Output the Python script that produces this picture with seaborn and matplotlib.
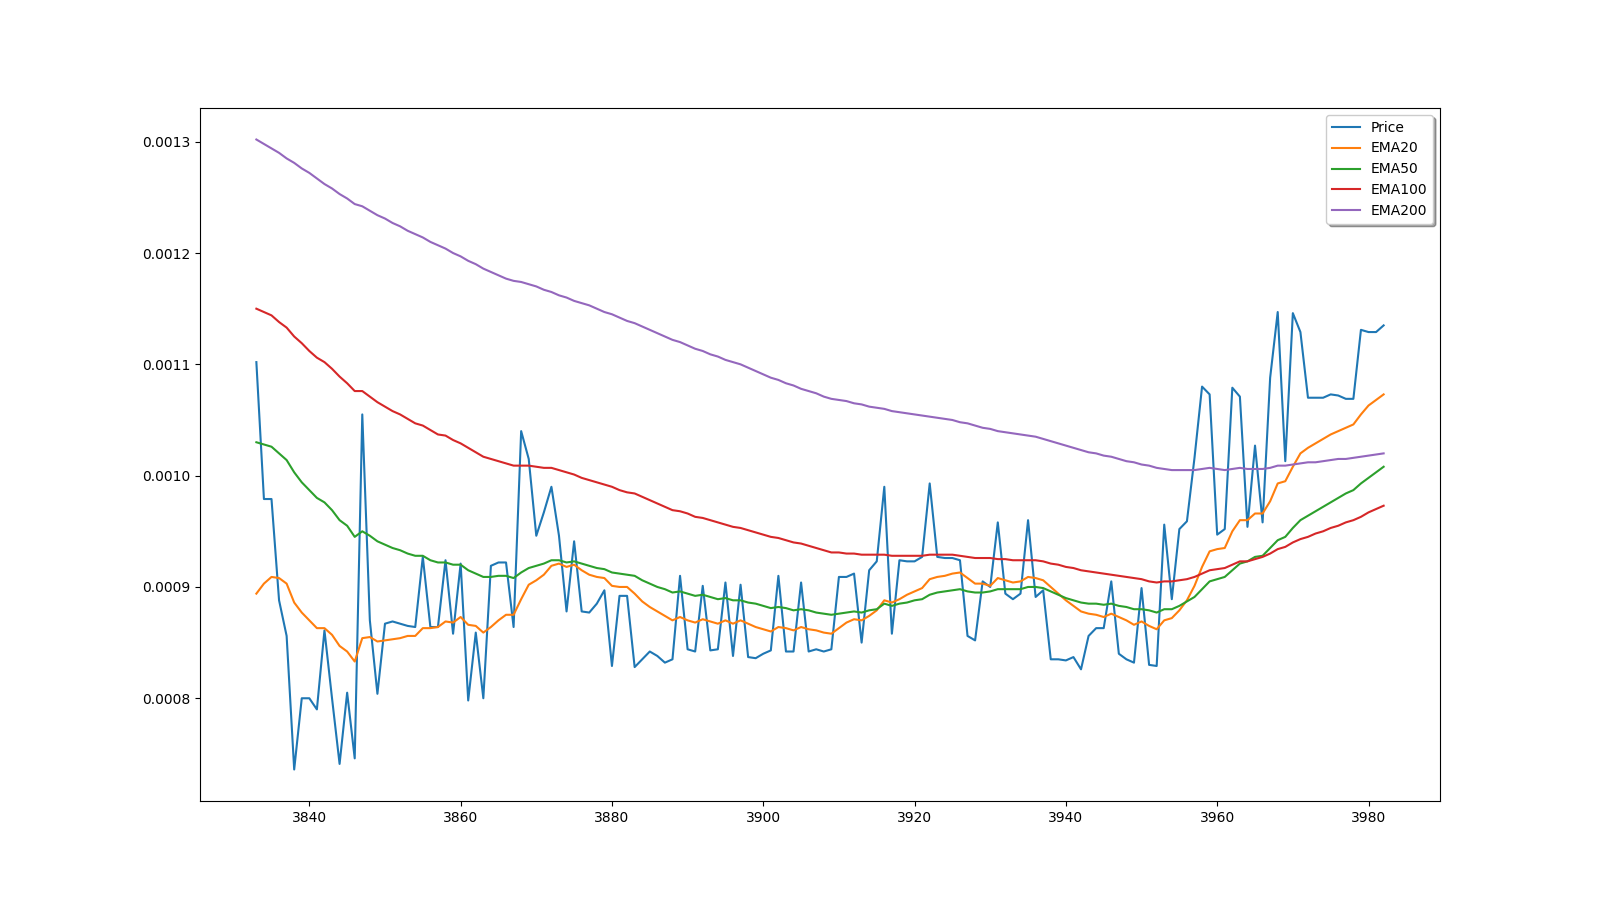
import numpy as np
import matplotlib
matplotlib.use("Agg")
import matplotlib.pyplot as plt
import seaborn as sns


days = np.arange(3833, 3983)

price = [
    0.001102, 0.000979, 0.000979, 0.000888, 0.000856, 0.000736, 0.000800, 0.000800, 0.000790, 0.000861,
    0.000800, 0.000741, 0.000805, 0.000746, 0.001055, 0.000870, 0.000804, 0.000867, 0.000869, 0.000867,
    0.000865, 0.000864, 0.000927, 0.000864, 0.000864, 0.000924, 0.000858, 0.000921, 0.000798, 0.000859,
    0.000800, 0.000919, 0.000922, 0.000922, 0.000864, 0.001040, 0.001015, 0.000946, 0.000967, 0.000990,
    0.000946, 0.000878, 0.000941, 0.000878, 0.000877, 0.000885, 0.000897, 0.000829, 0.000892, 0.000892,
    0.000828, 0.000835, 0.000842, 0.000838, 0.000832, 0.000835, 0.000910, 0.000844, 0.000842, 0.000901,
    0.000843, 0.000844, 0.000904, 0.000838, 0.000902, 0.000837, 0.000836, 0.000840, 0.000843, 0.000910,
    0.000842, 0.000842, 0.000904, 0.000842, 0.000844, 0.000842, 0.000844, 0.000909, 0.000909, 0.000912,
    0.000850, 0.000915, 0.000923, 0.000990, 0.000858, 0.000924, 0.000923, 0.000923, 0.000927, 0.000993,
    0.000927, 0.000926, 0.000926, 0.000924, 0.000856, 0.000852, 0.000905, 0.000900, 0.000958, 0.000894,
    0.000889, 0.000894, 0.000960, 0.000891, 0.000897, 0.000835, 0.000835, 0.000834, 0.000837, 0.000826,
    0.000856, 0.000863, 0.000863, 0.000905, 0.000840, 0.000835, 0.000832, 0.000899, 0.000830, 0.000829,
    0.000956, 0.000889, 0.000952, 0.000959, 0.001016, 0.001080, 0.001073, 0.000947, 0.000952, 0.001079,
    0.001071, 0.000954, 0.001027, 0.000958, 0.001088, 0.001147, 0.001013, 0.001146, 0.001129, 0.001070,
    0.001070, 0.001070, 0.001073, 0.001072, 0.001069, 0.001069, 0.001131, 0.001129, 0.001129, 0.001135,
]

ema20 = [
    0.000894, 0.000903, 0.000909, 0.000908, 0.000903, 0.000886, 0.000877, 0.000870, 0.000863, 0.000863,
    0.000857, 0.000847, 0.000842, 0.000833, 0.000854, 0.000855, 0.000851, 0.000852, 0.000853, 0.000854,
    0.000856, 0.000856, 0.000863, 0.000863, 0.000864, 0.000869, 0.000868, 0.000873, 0.000866, 0.000865,
    0.000859, 0.000864, 0.000870, 0.000875, 0.000875, 0.000889, 0.000902, 0.000906, 0.000911, 0.000919,
    0.000921, 0.000918, 0.000920, 0.000915, 0.000911, 0.000909, 0.000908, 0.000901, 0.000900, 0.000900,
    0.000894, 0.000887, 0.000882, 0.000878, 0.000874, 0.000870, 0.000873, 0.000870, 0.000868, 0.000871,
    0.000869, 0.000867, 0.000870, 0.000867, 0.000870, 0.000867, 0.000864, 0.000862, 0.000860, 0.000864,
    0.000863, 0.000861, 0.000864, 0.000862, 0.000861, 0.000859, 0.000858, 0.000863, 0.000868, 0.000871,
    0.000870, 0.000874, 0.000879, 0.000888, 0.000886, 0.000889, 0.000893, 0.000896, 0.000899, 0.000907,
    0.000909, 0.000910, 0.000912, 0.000913, 0.000908, 0.000903, 0.000903, 0.000901, 0.000908, 0.000906,
    0.000904, 0.000905, 0.000909, 0.000908, 0.000906, 0.000900, 0.000894, 0.000888, 0.000883, 0.000878,
    0.000876, 0.000875, 0.000873, 0.000876, 0.000873, 0.000870, 0.000866, 0.000869, 0.000865, 0.000862,
    0.000870, 0.000872, 0.000879, 0.000888, 0.000901, 0.000918, 0.000932, 0.000934, 0.000935, 0.000950,
    0.000960, 0.000960, 0.000966, 0.000966, 0.000977, 0.000993, 0.000995, 0.001008, 0.001020, 0.001025,
    0.001029, 0.001033, 0.001037, 0.001040, 0.001043, 0.001046, 0.001055, 0.001063, 0.001068, 0.001073,
]

ema50 = [
    0.001030, 0.001028, 0.001026, 0.001020, 0.001014, 0.001003, 0.000994, 0.000987, 0.000980, 0.000976,
    0.000969, 0.000960, 0.000955, 0.000945, 0.000950, 0.000946, 0.000941, 0.000938, 0.000935, 0.000933,
    0.000930, 0.000928, 0.000928, 0.000924, 0.000922, 0.000922, 0.000920, 0.000920, 0.000915, 0.000912,
    0.000909, 0.000909, 0.000910, 0.000910, 0.000908, 0.000913, 0.000917, 0.000919, 0.000921, 0.000924,
    0.000924, 0.000922, 0.000923, 0.000921, 0.000919, 0.000917, 0.000916, 0.000913, 0.000912, 0.000911,
    0.000910, 0.000906, 0.000903, 0.000900, 0.000898, 0.000895, 0.000896, 0.000894, 0.000892, 0.000893,
    0.000891, 0.000889, 0.000890, 0.000888, 0.000888, 0.000886, 0.000885, 0.000883, 0.000881, 0.000882,
    0.000881, 0.000879, 0.000880, 0.000879, 0.000877, 0.000876, 0.000875, 0.000876, 0.000877, 0.000878,
    0.000877, 0.000879, 0.000880, 0.000885, 0.000883, 0.000885, 0.000886, 0.000888, 0.000889, 0.000893,
    0.000895, 0.000896, 0.000897, 0.000898, 0.000896, 0.000895, 0.000895, 0.000896, 0.000898, 0.000898,
    0.000898, 0.000898, 0.000900, 0.000900, 0.000899, 0.000896, 0.000893, 0.000890, 0.000888, 0.000886,
    0.000885, 0.000885, 0.000884, 0.000885, 0.000883, 0.000882, 0.000880, 0.000880, 0.000879, 0.000877,
    0.000880, 0.000880, 0.000883, 0.000887, 0.000891, 0.000898, 0.000905, 0.000907, 0.000909, 0.000915,
    0.000921, 0.000923, 0.000927, 0.000928, 0.000935, 0.000942, 0.000945, 0.000953, 0.000960, 0.000964,
    0.000968, 0.000972, 0.000976, 0.000980, 0.000984, 0.000987, 0.000993, 0.000998, 0.001003, 0.001008,
]

ema100 = [
    0.001150, 0.001147, 0.001144, 0.001138, 0.001133, 0.001125, 0.001119, 0.001112, 0.001106, 0.001102,
    0.001096, 0.001089, 0.001083, 0.001076, 0.001076, 0.001071, 0.001066, 0.001062, 0.001058, 0.001055,
    0.001051, 0.001047, 0.001045, 0.001041, 0.001037, 0.001036, 0.001032, 0.001029, 0.001025, 0.001021,
    0.001017, 0.001015, 0.001013, 0.001011, 0.001009, 0.001009, 0.001009, 0.001008, 0.001007, 0.001007,
    0.001005, 0.001003, 0.001001, 0.000998, 0.000996, 0.000994, 0.000992, 0.000990, 0.000987, 0.000985,
    0.000984, 0.000981, 0.000978, 0.000975, 0.000972, 0.000969, 0.000968, 0.000966, 0.000963, 0.000962,
    0.000960, 0.000958, 0.000956, 0.000954, 0.000953, 0.000951, 0.000949, 0.000947, 0.000945, 0.000944,
    0.000942, 0.000940, 0.000939, 0.000937, 0.000935, 0.000933, 0.000931, 0.000931, 0.000930, 0.000930,
    0.000929, 0.000929, 0.000929, 0.000929, 0.000928, 0.000928, 0.000928, 0.000928, 0.000928, 0.000929,
    0.000929, 0.000929, 0.000929, 0.000928, 0.000927, 0.000926, 0.000926, 0.000926, 0.000925, 0.000925,
    0.000924, 0.000924, 0.000924, 0.000924, 0.000923, 0.000921, 0.000920, 0.000918, 0.000917, 0.000915,
    0.000914, 0.000913, 0.000912, 0.000911, 0.000910, 0.000909, 0.000908, 0.000907, 0.000905, 0.000904,
    0.000905, 0.000905, 0.000906, 0.000907, 0.000909, 0.000912, 0.000915, 0.000916, 0.000917, 0.000920,
    0.000923, 0.000923, 0.000925, 0.000927, 0.000930, 0.000934, 0.000936, 0.000940, 0.000943, 0.000945,
    0.000948, 0.000950, 0.000953, 0.000955, 0.000958, 0.000960, 0.000963, 0.000967, 0.000970, 0.000973,
]

ema200 = [
    0.001302, 0.001298, 0.001294, 0.001290, 0.001285, 0.001281, 0.001276, 0.001272, 0.001267, 0.001262,
    0.001258, 0.001253, 0.001249, 0.001244, 0.001242, 0.001238, 0.001234, 0.001231, 0.001227, 0.001224,
    0.001220, 0.001217, 0.001214, 0.001210, 0.001207, 0.001204, 0.001200, 0.001197, 0.001193, 0.001190,
    0.001186, 0.001183, 0.001180, 0.001177, 0.001175, 0.001174, 0.001172, 0.001170, 0.001167, 0.001165,
    0.001162, 0.001160, 0.001157, 0.001155, 0.001153, 0.001150, 0.001147, 0.001145, 0.001142, 0.001139,
    0.001137, 0.001134, 0.001131, 0.001128, 0.001125, 0.001122, 0.001120, 0.001117, 0.001114, 0.001112,
    0.001109, 0.001107, 0.001104, 0.001102, 0.001100, 0.001097, 0.001094, 0.001091, 0.001088, 0.001086,
    0.001083, 0.001081, 0.001078, 0.001076, 0.001074, 0.001071, 0.001069, 0.001068, 0.001067, 0.001065,
    0.001064, 0.001062, 0.001061, 0.001060, 0.001058, 0.001057, 0.001056, 0.001055, 0.001054, 0.001053,
    0.001052, 0.001051, 0.001050, 0.001048, 0.001047, 0.001045, 0.001043, 0.001042, 0.001040, 0.001039,
    0.001038, 0.001037, 0.001036, 0.001035, 0.001033, 0.001031, 0.001029, 0.001027, 0.001025, 0.001023,
    0.001021, 0.001020, 0.001018, 0.001017, 0.001015, 0.001013, 0.001012, 0.001010, 0.001009, 0.001007,
    0.001006, 0.001005, 0.001005, 0.001005, 0.001005, 0.001006, 0.001007, 0.001006, 0.001005, 0.001006,
    0.001007, 0.001006, 0.001006, 0.001006, 0.001007, 0.001009, 0.001009, 0.001010, 0.001011, 0.001012,
    0.001012, 0.001013, 0.001014, 0.001015, 0.001015, 0.001016, 0.001017, 0.001018, 0.001019, 0.001020,
]

series = [
    ("Price", price, "tab:blue"),
    ("EMA20", ema20, "tab:orange"),
    ("EMA50", ema50, "tab:green"),
    ("EMA100", ema100, "tab:red"),
    ("EMA200", ema200, "tab:purple"),
]

fig, ax = plt.subplots(figsize=(16, 9), dpi=100)

for name, values, color in series:
    sns.lineplot(x=days, y=values, label=name, color=color, linewidth=1.5, ax=ax)

ax.set_xlabel("")
ax.set_ylabel("")
ax.legend(loc="upper right", shadow=True)

plt.savefig("out.png", dpi=100)
